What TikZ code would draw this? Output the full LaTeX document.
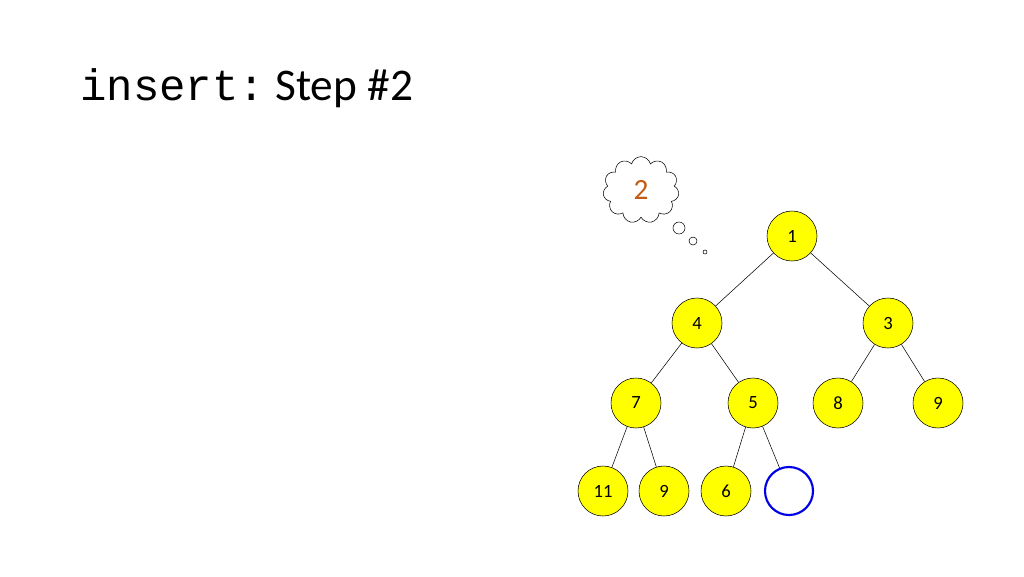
\documentclass[tikz,border=0pt]{standalone}
\usepackage{fontspec}
\setmainfont{Carlito}
\newfontfamily\codefont{Liberation Mono}
\usetikzlibrary{shapes.symbols}
\definecolor{heapfill}{RGB}{255,255,0}
\definecolor{thought}{RGB}{197,90,17}
\definecolor{slot}{RGB}{0,0,230}
\tikzstyle{key}=[circle, draw, fill=heapfill, minimum size=37.5pt, inner sep=0pt, font=\fontsize{14}{14}\selectfont]
\tikzset{hole/.style={circle, draw=slot, line width=1.6pt, minimum size=36pt, inner sep=0pt}}
\tikzset{bubble/.style={circle, draw, inner sep=0pt}}
\begin{document}
\begin{tikzpicture}[x=0.75pt,y=-0.75pt]
  \useasboundingbox (0,0) rectangle (1024,576);
  \draw (80,100) node[anchor=base west,inner sep=0pt] (title) {{\codefont\fontsize{33}{33}\selectfont insert:}\fontsize{34}{34}\selectfont\ Step \#2};
  \draw (792,236) node[key] (K1) {1};
  \draw (697,323) node[key] (K4) {4};
  \draw (888,323) node[key] (K3) {3};
  \draw (636,403) node[key] (K7) {7};
  \draw (753,403) node[key] (K5) {5};
  \draw (838,403) node[key] (K8) {8};
  \draw (938,403) node[key] (K9) {9};
  \draw (603,491) node[key] (K11) {11};
  \draw (664,491) node[key] (K9b) {9};
  \draw (726,491) node[key] (K6) {6};
  \draw (789,491) node[hole] (H) {};

  \draw (K1) -- (K4);
  \draw (K1) -- (K3);
  \draw (K4) -- (K7);
  \draw (K4) -- (K5);
  \draw (K3) -- (K8);
  \draw (K3) -- (K9);
  \draw (K7) -- (K11);
  \draw (K7) -- (K9b);
  \draw (K5) -- (K6);
  \draw (K5) -- (H);

  %% Thought cloud
  \draw (641,190) node[cloud, draw, cloud puffs=11, aspect=1.1, minimum width=57pt, minimum height=50pt, text=thought, font=\fontsize{22}{22}\selectfont] (C) {2};
  \draw (679,228) node[bubble, minimum size=9pt] (B1) {};
  \draw (693,241) node[bubble, minimum size=6pt] (B2) {};
  \draw (705,252) node[bubble, minimum size=3pt] (B3) {};
\end{tikzpicture}
\end{document}
